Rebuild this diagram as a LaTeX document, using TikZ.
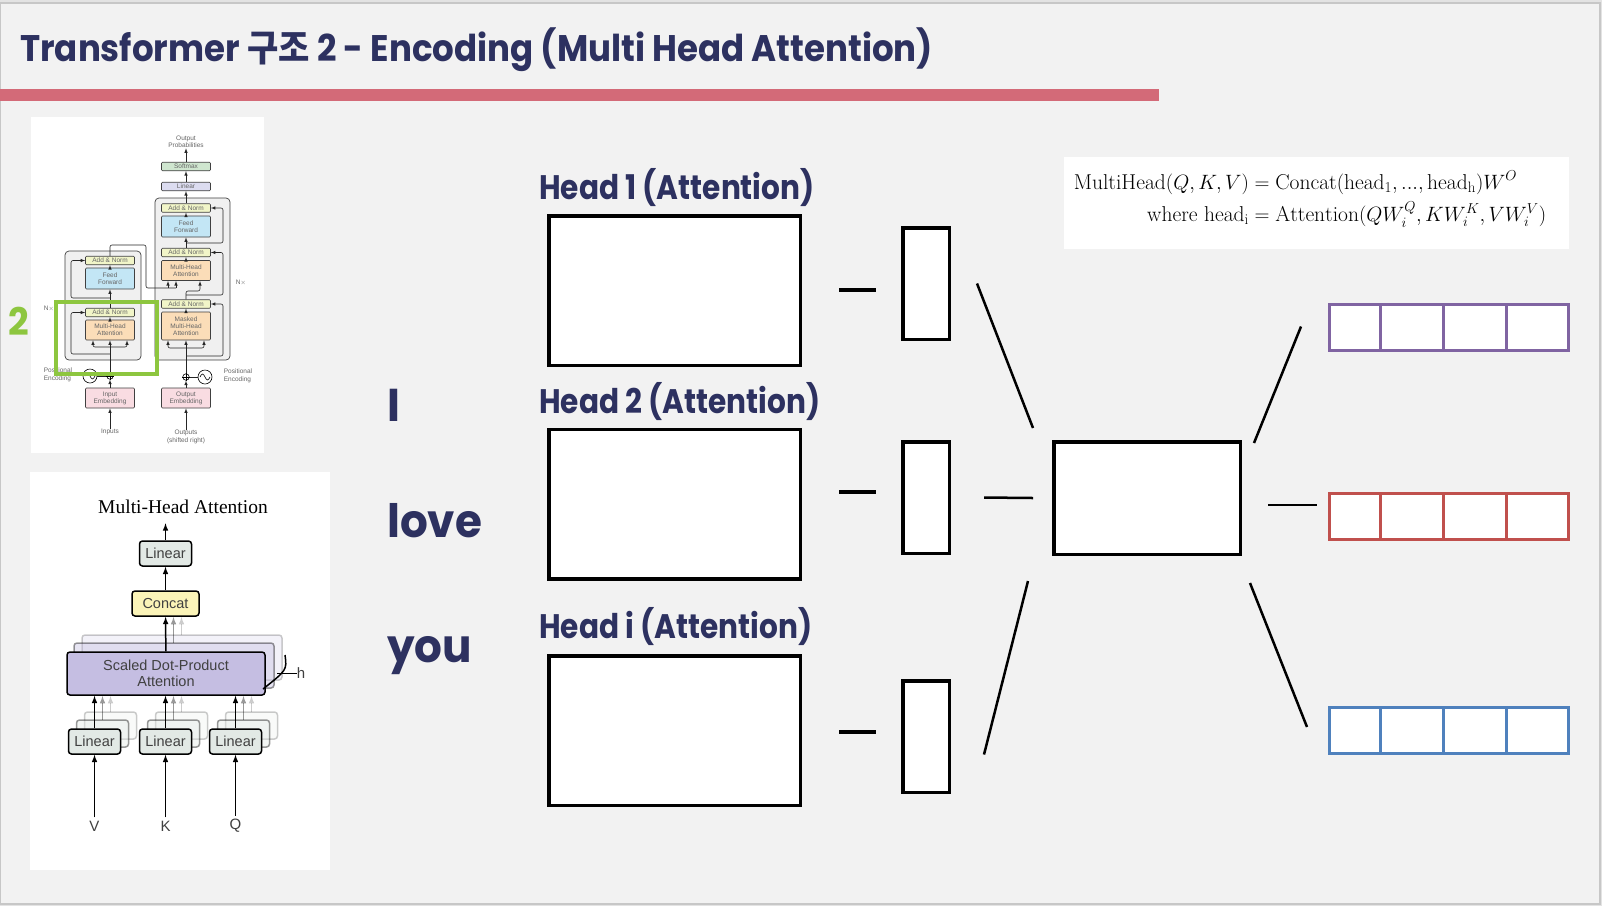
\documentclass[tikz,border=0pt]{standalone}
\usepackage{amsmath}
\usepackage{fontspec}
\usepackage{tikz}
\usetikzlibrary{calc, positioning, arrows}

\newfontfamily\popfont{Poppins}[FakeStretch=0.95]
\newfontfamily\popheadfont{Poppins}[FakeStretch=0.87]
\newfontfamily\poptitlefont{Poppins}[FakeStretch=0.92]
\newfontfamily\krfont{Noto Sans CJK KR}[FakeStretch=0.92]
\newfontfamily\helv{Liberation Sans}
\newfontfamily\tnr{Liberation Serif}

\definecolor{navy}{HTML}{2D3160}
\definecolor{slidebg}{HTML}{F2F2F2}
\definecolor{barred}{HTML}{D36A78}
\definecolor{lime}{HTML}{8DC63F}
\definecolor{vpurple}{HTML}{8064A2}
\definecolor{vred}{HTML}{C0504D}
\definecolor{vblue}{HTML}{4F81BD}
\definecolor{tfyellow}{HTML}{F1F5C8}
\definecolor{tfblue}{HTML}{C3E6F5}
\definecolor{tforange}{HTML}{FBDDB8}
\definecolor{tfpink}{HTML}{F9DCE2}
\definecolor{tfgreen}{HTML}{CFE6CF}
\definecolor{tflav}{HTML}{DCDCF0}
\definecolor{mhgray}{HTML}{E2E9E5}
\definecolor{mhyellow}{HTML}{FBF4B8}
\definecolor{mhpurple}{HTML}{C5BEE2}

\tikzset{
  headbox/.style={draw, line width=3.5pt, fill=white, minimum width=251.5pt, minimum height=149.5pt, inner sep=0pt},
  zbox/.style={draw, line width=3.5pt, fill=white, minimum width=46.5pt, minimum height=111.5pt, inner sep=0pt},
  wobox/.style={draw, line width=3.5pt, fill=white, minimum width=186.5pt, minimum height=112.5pt, inner sep=0pt},
  vecbox/.style={draw, line width=3pt, fill=white, minimum width=239pt, minimum height=46pt, inner sep=0pt},
  tickline/.style={line width=4pt},
  link/.style={line width=2.5pt},
  headlbl/.style={font={\popheadfont\bfseries\fontsize{34}{40}\selectfont}, text=navy, anchor=base west, inner sep=0pt},
  wordlbl/.style={font={\popfont\bfseries\fontsize{46}{52}\selectfont}, text=navy, anchor=base west, inner sep=0pt},
  % small transformer figure
  tfbox/.style={draw=black!75, line width=0.6pt, rounded corners=1pt, minimum width=49pt, inner sep=0pt, align=center, text=black!60, font={\helv\fontsize{6.5}{7}\selectfont}},
  an/.style={tfbox, fill=tfyellow, minimum height=8.5pt},
  ff/.style={tfbox, fill=tfblue, minimum height=21pt},
  mha/.style={tfbox, fill=tforange, minimum height=20pt},
  emb/.style={tfbox, fill=tfpink, minimum height=20pt},
  tftext/.style={align=center, inner sep=0pt, text=black!60, font={\helv\fontsize{6.5}{7.5}\selectfont}},
  tfline/.style={line width=0.6pt, black!85, rounded corners=2pt},
  tfarrow/.style={tfline, -latex},
  % multi-head attention figure
  mhbox/.style={draw, line width=1.5pt, rounded corners=3pt, inner sep=0pt, align=center, text=black!75, font={\helv\fontsize{14.5}{16}\selectfont}},
  mhlin/.style={mhbox, fill=mhgray, minimum width=52pt, minimum height=25pt},
  mharrow/.style={line width=1.5pt, -latex},
}

\begin{document}
\begin{tikzpicture}[x=1pt, y=-1pt]
\useasboundingbox (0,0) rectangle (1602,906);
\fill[black!11] (0,0) rectangle (1602,906);
\draw[fill=slidebg, draw=black!22, line width=1.2pt] (0,3) rectangle (1600,904);

% title
\node[anchor=base west, inner sep=0pt, text=navy, font={\poptitlefont\bfseries\fontsize{37}{42}\selectfont}] (title) at (20,61)
  {Transformer {\krfont\bfseries 구조} 2 - Encoding (Multi Head Attention)};
\fill[barred] (0,89) rectangle (1159,101);

% ---------- transformer figure ----------
\fill[white] (31,117) rectangle (264,453);
\draw[black!75, line width=0.7pt, fill=black!6, rounded corners=4pt] (65,251) rectangle (141,360);
\draw[black!75, line width=0.7pt, fill=black!6, rounded corners=4pt] (155,198) rectangle (230,360);

\node[an] (eAN2) at (110,260.5) {Add \& Norm};
\node[ff] (eFF) at (110,278.5) {Feed\\Forward};
\node[an] (eAN1) at (110,312.5) {Add \& Norm};
\node[mha] (eMHA) at (110,330) {Multi-Head\\Attention};
\node[emb] (eEmb) at (110,398) {Input\\Embedding};

\node[tfbox, fill=tfgreen, minimum height=8.5pt] (dSoft) at (186,166.5) {Softmax};
\node[tfbox, fill=tflav, minimum height=8.5pt] (dLin) at (186,186.5) {Linear};
\node[an] (dAN3) at (186,208) {Add \& Norm};
\node[ff] (dFF) at (186,226.5) {Feed\\Forward};
\node[an] (dAN2) at (186,252.5) {Add \& Norm};
\node[mha] (dMHA) at (186,270.5) {Multi-Head\\Attention};
\node[an] (dAN1) at (186,304) {Add \& Norm};
\node[mha, minimum height=28pt] (dMMHA) at (186,326) {Masked\\Multi-Head\\Attention};
\node[emb] (dEmb) at (186,398) {Output\\Embedding};

\node[tftext] (outprob) at (186,142) {Output\\Probabilities};
\node[tftext] (inputs) at (110,432) {Inputs};
\node[tftext] (outputs) at (186,437) {Outputs\\(shifted right)};
\node[tftext] (eNx) at (49,309) {N$\times$};
\node[tftext] (dNx) at (241,283) {N$\times$};
\node[tftext, align=left] (ePEtxt) at (58,375) {Positional\\Encoding};
\node[tftext, align=left] (dPEtxt) at (238,376) {Positional\\Encoding};

\node[draw, circle, line width=0.6pt, minimum size=6.5pt, inner sep=0pt] (eplus) at (110,376) {};
\node[draw, circle, line width=0.6pt, minimum size=6.5pt, inner sep=0pt] (dplus) at (186,377) {};
\node[draw, circle, line width=0.6pt, minimum size=14pt, inner sep=0pt] (ePE) at (90,376) {};
\node[draw, circle, line width=0.6pt, minimum size=14pt, inner sep=0pt] (dPE) at (205,377) {};
\foreach \p in {eplus, dplus}
  \draw[line width=0.6pt] (\p.north) -- (\p.south) (\p.west) -- (\p.east);
\foreach \p in {ePE, dPE}
  \draw[line width=0.6pt] ($(\p)+(-5,0)$) sin ($(\p)+(-2.5,-3)$) cos (\p.center) sin ($(\p)+(2.5,3)$) cos ($(\p)+(5,0)$);
\draw[tfline] (ePE) -- (eplus);
\draw[tfline] (dPE) -- (dplus);

\draw[tfarrow] (inputs) -- (eEmb);
\draw[tfarrow] (outputs) -- (dEmb);
\draw[tfarrow] (eEmb) -- (eplus);
\draw[tfarrow] (dEmb) -- (dplus);
% encoder
\draw[tfarrow] (eplus) -- (eMHA);
\draw[tfarrow] (110,347) -| ($(eMHA.south)+(-17,0)$);
\draw[tfarrow] (110,347) -| ($(eMHA.south)+(17,0)$);
\draw[tfarrow] (110,354) -| (71,312.5) -- (eAN1.west);
\draw[tfarrow] (eMHA) -- (eAN1);
\draw[tfarrow] (eAN1) -- (eFF);
\draw[tfarrow] (110,298) -| (71,260.5) -- (eAN2.west);
\draw[tfarrow] (eFF) -- (eAN2);
\draw[tfline] (eAN2.north) -- (110,245) -| (146,288) -- (176,288);
\draw[tfarrow] (168,288) -- (168,281);
\draw[tfarrow] (176,288) -- (176,281);
% decoder
\draw[tfarrow] (dplus) -- (dMMHA);
\draw[tfarrow] (186,348) -| ($(dMMHA.south)+(-18,0)$);
\draw[tfarrow] (186,348) -| ($(dMMHA.south)+(18,0)$);
\draw[tfarrow] (186,356) -| (223,304) -- (dAN1.east);
\draw[tfarrow] (dMMHA) -- (dAN1);
\draw[tfarrow] (dAN1.north) -- (186,291) -| (200,281);
\draw[tfarrow] (186,295) -| (223,252.5) -- (dAN2.east);
\draw[tfarrow] (dMHA) -- (dAN2);
\draw[tfarrow] (dAN2) -- (dFF);
\draw[tfarrow] (186,243) -| (223,208) -- (dAN3.east);
\draw[tfarrow] (dFF) -- (dAN3);
\draw[tfarrow] (dAN3) -- (dLin);
\draw[tfarrow] (dLin) -- (dSoft);
\draw[tfarrow] (dSoft) -- (outprob);

\draw[lime, line width=3.2pt] (56,302) rectangle (157,374);
\node[text=lime, font={\popfont\bfseries\fontsize{38}{40}\selectfont}, inner sep=0pt] (two) at (19,321) {2};

% ---------- multi-head attention figure ----------
\fill[white] (30,472) rectangle (330,870);
\node[font={\tnr\fontsize{19.5}{22}\selectfont}, inner sep=0pt] (mhtitle) at (183,507) {Multi-Head Attention};

% stacked copies behind
\foreach \d/\o in {16/0.2, 8/0.4} {
  \foreach \xx in {94.5, 165.5, 235.5} {
    \draw[line width=1.5pt, opacity=\o, -latex] (\xx+\d,728-\d) -- (\xx+\d,696);
    \draw[line width=1.5pt, opacity=\o, rounded corners=3pt, fill=mhgray, fill opacity=\o] (\xx-26+\d,728-\d) rectangle (\xx+26+\d,755-\d);
  }
  \draw[line width=1.5pt, opacity=\o, -latex] (165.5+\d,651-\d) -- (165.5+\d,617);
  \draw[line width=1.5pt, opacity=\o, rounded corners=3pt, fill=mhpurple, fill opacity=\o] (66+\d,651-\d) rectangle (266+\d,696-\d);
}

\node[mhlin] (mhTop) at (165.5,553.5) {Linear};
\node[mhbox, fill=mhyellow, minimum width=67pt, minimum height=25pt] (mhCat) at (165.5,603.5) {Concat};
\node[mhbox, fill=mhpurple, minimum width=198pt, minimum height=43pt] (mhSD) at (166,673.5) {Scaled Dot-Product\\Attention};
\node[mhlin] (mhV) at (94.5,741.5) {Linear};
\node[mhlin] (mhK) at (165.5,741.5) {Linear};
\node[mhlin] (mhQ) at (235.5,741.5) {Linear};

\node[text=black!75, font={\helv\fontsize{15}{16}\selectfont}] (lblV) at (94.5,826) {V};
\node[text=black!75, font={\helv\fontsize{15}{16}\selectfont}] (lblK) at (165.5,826) {K};
\node[text=black!75, font={\helv\fontsize{15}{16}\selectfont}] (lblQ) at (235.5,826) {Q};
\node[text=black!75, font={\helv\fontsize{15}{16}\selectfont}, inner sep=0pt] (lblh) at (301,673) {h};

\foreach \n/\m in {lblV/mhV, lblK/mhK, lblQ/mhQ} {
  \draw[mharrow] (\n) -- (\m);
  \draw[mharrow] (\m.north) -- (\m.north |- mhSD.south);
}
\draw[mharrow] (mhSD) -- (mhCat);
\draw[mharrow] (mhCat) -- (mhTop);
\draw[mharrow] (mhTop.north) -- ++(0,-17);
\draw[line width=1.5pt] (285,655) .. controls (287,670) .. (263,689);
\draw[line width=1pt] (277,673) -- (lblh.west);

% ---------- formula ----------
\fill[white] (1064,157) rectangle (1569,249);
\node[inner sep=0pt, font={\fontsize{21.5}{25}\selectfont}] (formula) at (1310,200)
  {$\begin{aligned}
    \mathrm{MultiHead}(Q,K,V) &= \mathrm{Concat}(\mathrm{head}_{\mathrm{1}},...,\mathrm{head}_{\mathrm{h}})W^O\\[1pt]
    \text{where}\ \mathrm{head}_{\mathrm{i}} &= \mathrm{Attention}(QW^Q_i,KW^K_i,VW^V_i)
  \end{aligned}$};

% ---------- words and heads ----------
\node[wordlbl] (wI) at (387,421) {I};
\node[wordlbl] (wlove) at (387,537) {love};
\node[wordlbl] (wyou) at (387,662) {you};

\node[headlbl] (h1lbl) at (539,199) {Head 1 (Attention)};
\node[headlbl] (h2lbl) at (539,413) {Head 2 (Attention)};
\node[headlbl] (hilbl) at (539,638) {Head i (Attention)};

\node[headbox] (attn1) at (674.5,290.5) {};
\node[headbox] (attn2) at (674.5,504) {};
\node[headbox] (attni) at (674.5,730.5) {};

\node[zbox] (z1) at (926,283.5) {};
\node[zbox] (z2) at (926,497.5) {};
\node[zbox] (zi) at (926,736.5) {};

\draw[tickline] ($(z1.west)+(-62,6.5)$) -- ($(z1.west)+(-25,6.5)$);
\draw[tickline] ($(z2.west)+(-62,-5.5)$) -- ($(z2.west)+(-25,-5.5)$);
\draw[tickline] ($(zi.west)+(-62,-4.5)$) -- ($(zi.west)+(-25,-4.5)$);

\node[wobox] (wo) at (1147,498) {};

\draw[link] ($(z1.east)+(26,0)$) -- ($(wo.north west)+(-19,-12)$);
\draw[link] ($(z2.east)+(33,0)$) -- ($(wo.west)+(-19,0)$);
\draw[link] ($(wo.south west)+(-24,25)$) -- ($(zi.east)+(33,18)$);

\foreach \v/\yy/\c in {vec1/327.5/vpurple, vec2/516.5/vred, vec3/730.5/vblue} {
  \node[vecbox, draw=\c] (\v) at (1449,\yy) {};
  \foreach \xx in {52, 115, 178}
    \draw[\c, line width=3pt] ($(\v.north west)+(\xx,0)$) -- ($(\v.south west)+(\xx,0)$);
}

\draw[link] ($(wo.north east)+(12,3)$) -- ($(vec1.west)+(-27,-1)$);
\draw[link] ($(wo.east)+(26,7)$) -- ($(vec2.west)+(-11,-11.5)$);
\draw[link] ($(wo.south east)+(8,27)$) -- ($(vec3.west)+(-21,-3.5)$);
\end{tikzpicture}
\end{document}
